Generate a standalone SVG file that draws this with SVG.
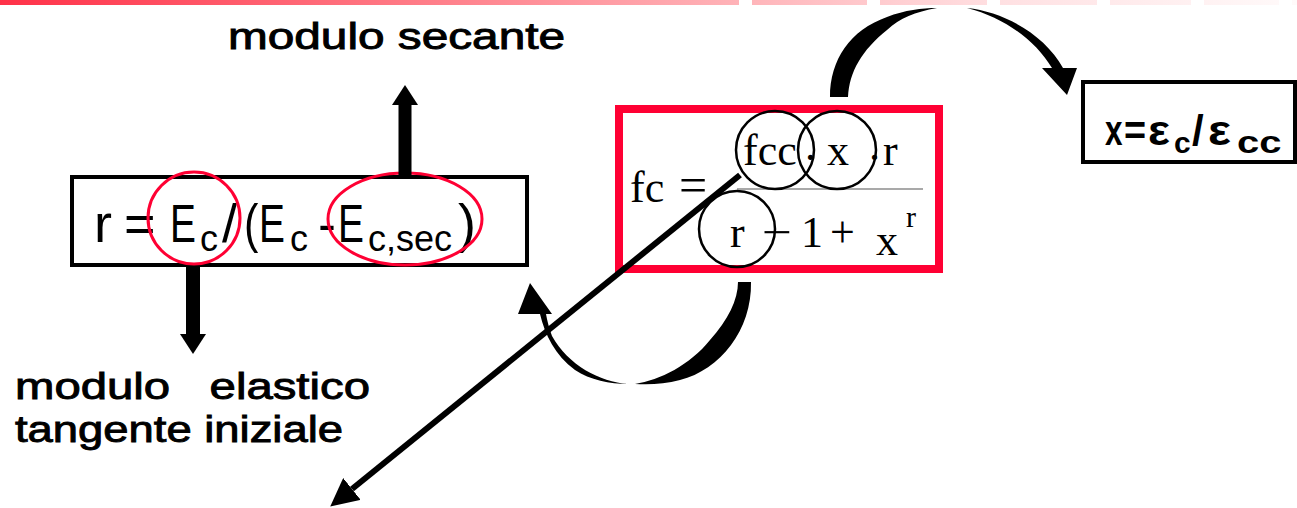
<svg xmlns="http://www.w3.org/2000/svg" width="1297" height="508" viewBox="0 0 1297 508">
<style>
.sans{font-family:"Liberation Sans",Arial,sans-serif;fill:#000}
.lbl{font-family:"Liberation Sans",Arial,sans-serif;fill:#000;stroke:#000;stroke-width:0.9}
.serif{font-family:"Liberation Serif","Times New Roman",serif;fill:#000}
.box{fill:#fff;stroke:#000;stroke-width:4}
.redring{fill:none;stroke:#ff0033;stroke-width:3}
.ring{fill:none;stroke:#000;stroke-width:2.5}
.shaft{stroke:#000;fill:none}
</style>
<defs>
<linearGradient id="bar" gradientUnits="userSpaceOnUse" x1="0" y1="0" x2="1297" y2="0">
<stop offset="0" stop-color="#ff3148"/>
<stop offset="0.3" stop-color="#ff7783"/>
<stop offset="0.57" stop-color="#ffb3b8"/>
<stop offset="0.77" stop-color="#ffe0e2"/>
<stop offset="1" stop-color="#fffafa"/>
</linearGradient>
<marker id="bighead" markerUnits="userSpaceOnUse" viewBox="0 0 20 26" markerWidth="20" markerHeight="26" refX="0" refY="13" orient="auto">
<path d="M0,0 L20,13 L0,26 Z" fill="#000"/>
</marker>
<marker id="thinhead" markerUnits="userSpaceOnUse" viewBox="0 0 28 28" markerWidth="28" markerHeight="28" refX="0" refY="14" orient="auto">
<path d="M0,0 L28,14 L0,28 Z" fill="#000"/>
</marker>
</defs>
<rect width="1297" height="508" fill="#fff"/>
<g id="topbar" fill="url(#bar)">
<rect x="0" y="0" width="739" height="5"/>
<rect x="752" y="0" width="115" height="5"/>
<rect x="880" y="0" width="107" height="5"/>
<rect x="1000" y="0" width="97" height="5"/>
<rect x="1110" y="0" width="81" height="5"/>
<rect x="1204" y="0" width="75" height="5"/>
<rect x="1292" y="0" width="5" height="5"/>
</g>
<g id="label-secante">
<text class="lbl" x="228" y="49" font-size="36" textLength="337" lengthAdjust="spacingAndGlyphs">modulo secante</text>
</g>
<g id="label-elastico">
<text class="lbl" x="15" y="399" font-size="37" xml:space="preserve" textLength="355" lengthAdjust="spacingAndGlyphs">modulo   elastico</text>
<text class="lbl" x="15" y="442" font-size="37" textLength="328" lengthAdjust="spacingAndGlyphs">tangente iniziale</text>
</g>
<g id="box-r">
<rect class="box" x="72" y="177" width="455" height="88"/>
<g class="sans" font-size="54">
<text x="94" y="242">r</text>
<text x="124" y="242">=</text>
<text transform="translate(170,242) scale(0.72,1)">E</text>
<text x="200" y="251" font-size="36">c</text>
<text x="222" y="242">/</text>
<text transform="translate(244,242) scale(0.8,1)">(</text>
<text transform="translate(259,242) scale(0.72,1)">E</text>
<text x="290" y="251" font-size="36">c</text>
<text x="318" y="242">-</text>
<text transform="translate(338,242) scale(0.72,1)">E</text>
<text x="368" y="251" font-size="36">c,sec</text>
<text x="458" y="242">)</text>
</g>
<circle class="redring" cx="194" cy="218" r="46"/>
<ellipse class="redring" cx="405" cy="219" rx="77" ry="46"/>
</g>
<g id="box-fc">
<rect x="619" y="109" width="320" height="160" fill="#fff" stroke="#ff0033" stroke-width="8"/>
<text class="serif" x="630" y="202" font-size="44">fc</text>
<text class="serif" x="679" y="202" font-size="50">=</text>
<text class="serif" x="743" y="165" font-size="44">fcc</text>
<text class="serif" x="805" y="160" font-size="44">.</text>
<text class="serif" x="827" y="165" font-size="44">x</text>
<text class="serif" x="869" y="160" font-size="44">.</text>
<text class="serif" x="883" y="165" font-size="44">r</text>
<line x1="737" y1="189" x2="923" y2="189" stroke="#555" stroke-width="1.2"/>
<text class="serif" x="730" y="247" font-size="44">r</text>
<text class="serif" x="762" y="247" font-size="44" textLength="30" lengthAdjust="spacingAndGlyphs">−</text>
<text class="serif" x="801" y="247" font-size="44">1</text>
<text class="serif" x="830" y="247" font-size="44">+</text>
<text class="serif" x="876" y="255" font-size="44">x</text>
<text class="serif" x="906" y="227" font-size="30">r</text>
<circle class="ring" cx="775" cy="150" r="39"/>
<circle class="ring" cx="837" cy="150" r="39"/>
<circle class="ring" cx="737" cy="229" r="38"/>
</g>
<g id="box-x">
<rect class="box" x="1083" y="82" width="212" height="80"/>
<g class="sans" font-size="42" font-weight="bold">
<text transform="translate(1105,145) scale(0.75,1)">x</text>
<text transform="translate(1124,145) scale(0.9,1)">=</text>
<text transform="translate(1148,145) scale(1.1,1)">ε</text>
<text x="1174" y="153" font-size="30">c</text>
<text x="1192" y="145">/</text>
<text transform="translate(1208,145) scale(1.15,1)">ε</text>
<text transform="translate(1237,153) scale(1.25,1)" font-size="32">cc</text>
</g>
</g>
<g id="connectors">
<line class="shaft" x1="405" y1="175" x2="405" y2="105" stroke-width="13" marker-end="url(#bighead)"/>
<line class="shaft" x1="193" y1="267" x2="193" y2="334" stroke-width="14" marker-end="url(#bighead)"/>
<line class="shaft" x1="740" y1="175" x2="352" y2="489" stroke-width="6" marker-end="url(#thinhead)"/>
<path d="M830,97 C830,60 850,30 887,17 C905,10 922,8 937,8 C915,12 900,18 887,30 C862,50 849,72 848,97 Z" fill="#000"/>
<path d="M967,8 C1005,12 1045,35 1063,68 L1077,68 L1067,95 L1042,68 L1052,68 C1035,40 1005,18 967,8 Z" fill="#000"/>
<path d="M738,282 L751,282 C752,330 720,370 680,380 C665,384 650,385 635,384 C660,380 690,365 710,340 C728,320 738,300 738,282 Z" fill="#000"/>
<path d="M628,384 C600,382 568,365 552,336 C549,328 547,320 546,314 L552,314 L530,283 L518,314 L540,314 C545,335 555,355 575,370 C590,380 610,384 628,384 Z" fill="#000"/>
</g>
</svg>
